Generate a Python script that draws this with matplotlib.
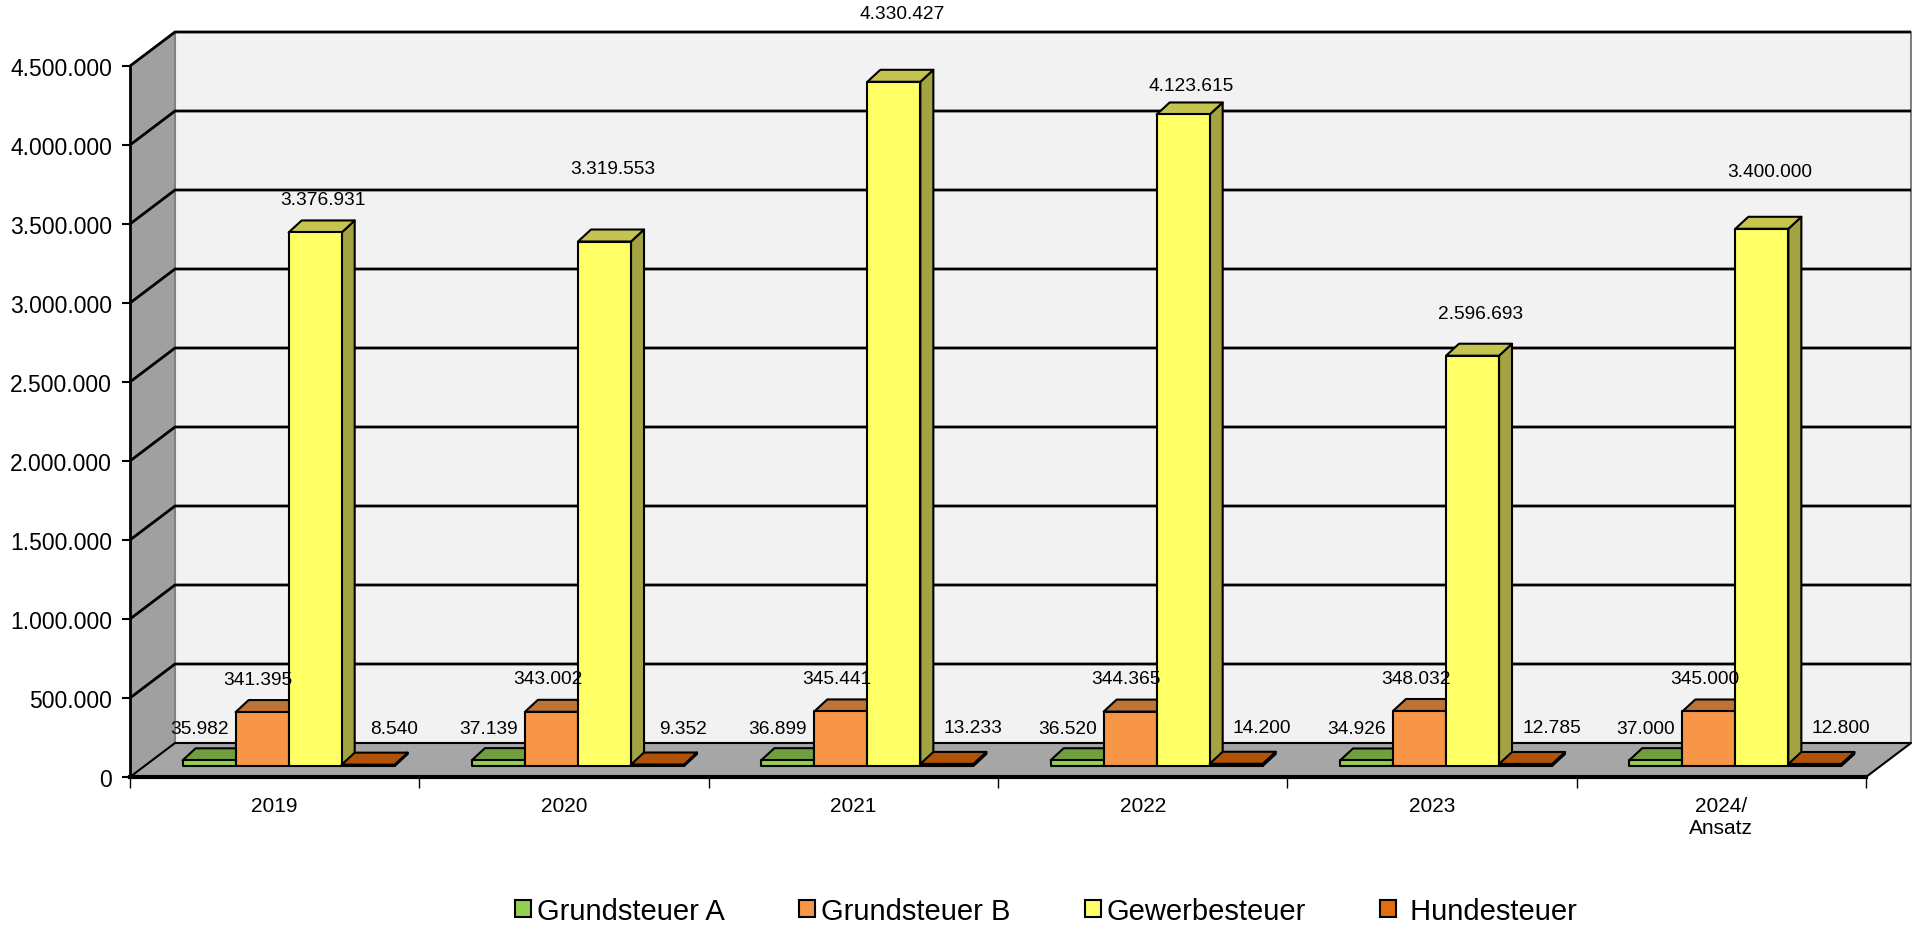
import numpy as np
import matplotlib
matplotlib.use("Agg")
import matplotlib.pyplot as plt
from matplotlib.patches import Polygon, Patch
from matplotlib.ticker import FuncFormatter, FixedLocator

# data
years = ["2019", "2020", "2021", "2022", "2023", "2024/\nAnsatz"]
grund_a = [35982, 37139, 36899, 36520, 34926, 37000]
grund_b = [341395, 343002, 345441, 344365, 348032, 345000]
gewerbe = [3376931, 3319553, 4330427, 4123615, 2596693, 3400000]
hunde = [8540, 9352, 13233, 14200, 12785, 12800]

series = [grund_a, grund_b, gewerbe, hunde]
names = ["Grundsteuer A", "Grundsteuer B", "Gewerbesteuer", " Hundesteuer"]
colors = ["#92D050", "#F79646", "#FFFF66", "#E46C0A"]

# label placement (pixels): x shift from bar centre, y above bar top
lab_dx = [-10, -4, 8, 26]
lab_dy = [20, 21, 21, 24]
gew_extra = [0, 40, 35, -4, 9, 24]

W, H = 1912, 928
plt.rcParams['font.family'] = ['Liberation Sans', 'DejaVu Sans']


def shade(c, f):
    r, g, b = matplotlib.colors.to_rgb(c)
    return (r * f, g * f, b * f)


def de(v):
    return f"{int(round(v)):,}".replace(",", ".")


fig = plt.figure(figsize=(W / 100, H / 100), dpi=100)
ov = fig.add_axes([0, 0, 1, 1], zorder=0)
ov.set_xlim(0, W)
ov.set_ylim(0, H)
ov.axis('off')

ax = fig.add_axes([130 / W, 150 / H, 1736 / W, 711 / H], zorder=1)
ax.patch.set_alpha(0)
n = len(years)
ymax = 4500000
ax.set_xlim(0, n)
ax.set_ylim(0, ymax)
yt = np.arange(0, ymax + 1, 500000)
ax.yaxis.set_major_locator(FixedLocator(yt))
ax.yaxis.set_major_formatter(FuncFormatter(lambda v, p: de(v)))
ax.xaxis.set_major_locator(FixedLocator(np.arange(n + 1)))
ax.xaxis.set_minor_locator(FixedLocator(np.arange(n) + 0.5))
ax.set_xticklabels([""] * (n + 1))
ax.set_xticklabels(years, minor=True)
ax.tick_params(axis='x', which='major', length=8, width=1, color='black')
ax.tick_params(axis='x', which='minor', length=0, pad=14, labelsize=15)
ax.tick_params(axis='y', length=6, width=1.5, pad=7, labelsize=16.5)
for lab in ax.get_xticklabels(minor=True):
    lab.set_verticalalignment('top')
    lab.set_linespacing(1.15)
ax.spines['top'].set_visible(False)
ax.spines['right'].set_visible(False)
ax.spines['left'].set_linewidth(2)
ax.spines['bottom'].set_linewidth(3)

D = np.array([45.0, 34.0])     # full depth of the box
s0 = np.array([14.0, 11.0])    # bar front plane
s1 = np.array([27.0, 23.0])    # bar back plane
ds = s1 - s0


def px(x, v):
    return ax.transData.transform((x, v))


def poly(pts, fc, ec='black', lw=1.5, z=1):
    ov.add_patch(Polygon(np.array(pts), closed=True, facecolor=fc,
                         edgecolor=ec, linewidth=lw, zorder=z, joinstyle='round'))


p00, p0t, pn0, pnt = px(0, 0), px(0, ymax), px(n, 0), px(n, ymax)
poly([p00, p0t, p0t + D, p00 + D], '#A0A0A0', ec='none', z=1)
poly([p00 + D, p0t + D, pnt + D, pn0 + D], '#F2F2F2', ec='#808080', lw=1.5, z=1)
poly([p00, p00 + D, pn0 + D, pn0], '#A6A6A6', ec='black', lw=1.5, z=2)
for t in yt[1:]:
    a, b = px(0, t), px(n, t)
    ov.plot([a[0], a[0] + D[0], b[0] + D[0]], [a[1], a[1] + D[1], b[1] + D[1]],
            color='black', lw=2, zorder=2, solid_capstyle='butt')

bw = 0.733 / 4
gap = 1 - 4 * bw
z = 3
for i in range(n):
    for j, vals in enumerate(series):
        v = vals[i]
        x0 = i + gap / 2 + j * bw
        x1 = x0 + bw
        F0, F1 = px(x0, 0) + s0, px(x1, 0) + s0
        T0, T1 = px(x0, v) + s0, px(x1, v) + s0
        c = colors[j]
        poly([F1, F1 + ds, T1 + ds, T1], shade(c, 0.64), z=z)
        poly([T0, T1, T1 + ds, T0 + ds], shade(c, 0.77), z=z + 1)
        poly([F0, F1, T1, T0], c, z=z + 2)
        z += 3
        extra = gew_extra[i] if j == 2 else 0
        lx = (T0[0] + T1[0]) / 2 + lab_dx[j]
        ly = T0[1] + ds[1] + lab_dy[j] + extra
        ov.text(lx, ly, de(v), ha='center', va='center', fontsize=13.8, zorder=500)

handles = [Patch(facecolor=c, edgecolor='black', linewidth=1.5) for c in colors]
fig.legend(handles, names, loc='center', bbox_to_anchor=(1046 / W, 1 - 912 / H),
           ncol=4, frameon=False, fontsize=21, handlelength=0.55, handleheight=0.55,
           handletextpad=0.2, columnspacing=2.55)

fig.savefig("out.png", dpi=100)
